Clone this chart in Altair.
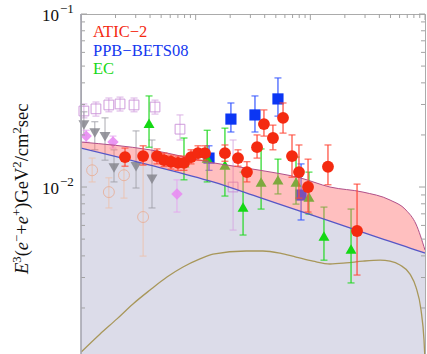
import altair as alt
import pandas as pd

# ---------------- data (energy in GeV, E^3 flux) ----------------
# ATIC-2
atic_e = [24.2, 34.8, 46.0, 53.0, 60.9, 70.1, 79.1, 91.1, 104.8, 120.6, 180, 234,
          280, 343, 394, 472, 578, 692, 796, 955, 1425, 2555]
atic_f = [0.0149, 0.0151, 0.0151, 0.0143, 0.0140, 0.0138, 0.0138, 0.0149, 0.0157, 0.0157,
          0.0157, 0.0147, 0.0122, 0.0170, 0.0231, 0.0192, 0.0251, 0.0151, 0.0122, 0.0100,
          0.0131, 0.00557]
atic_hi = [0.0168, 0.0173, 0.0166, 0.0157, 0.0153, 0.0151, 0.0151, 0.0164, 0.0173, 0.0173,
           0.0175, 0.0164, 0.0140, 0.0200, 0.0279, 0.0228, 0.0306, 0.0200, 0.0175, 0.0145,
           0.0175, 0.0104]
atic_lo = [0.0132, 0.0134, 0.0136, 0.0131, 0.0127, 0.0125, 0.0125, 0.0136, 0.0143, 0.0143,
           0.0141, 0.0132, 0.0107, 0.0147, 0.0197, 0.0164, 0.0205, 0.0114, 0.00863, 0.00717,
           0.0103, 0.00310]

# PPB-BETS08
ppb_e = [130.7, 203, 329, 522, 830]
ppb_f = [0.0147, 0.0247, 0.0261, 0.0323, 0.00899]
ppb_hi = [0.0173, 0.0306, 0.0336, 0.0427, 0.0136]
ppb_lo = [0.0125, 0.0208, 0.0208, 0.0257, 0.00645]

# EC
ec_e = [39.2, 79.1, 126, 180, 259, 372, 522, 750, 973, 1315, 2265]
ec_f = [0.0234, 0.0138, 0.0147, 0.0134, 0.00766, 0.0107, 0.0110, 0.0107, 0.00875, 0.00521, 0.00439]
ec_hi = [0.0336, 0.0192, 0.0213, 0.0219, 0.0122, 0.0166, 0.0145, 0.0149, 0.0122, 0.00766, 0.00746]
ec_lo = [0.0170, 0.0110, 0.0107, 0.00887, 0.00528, 0.00746, 0.00912, 0.00797, 0.00698, 0.00378, 0.00279]

# older measurements (drawn faded)
sq_e = [10.6, 13.5, 17.5, 21.9, 29.0, 44.2, 73.0, 212]
sq_f = [0.0275, 0.0283, 0.0298, 0.0302, 0.0298, 0.0290, 0.0216, 0.0100]
sq_hi = [0.0302, 0.0310, 0.0327, 0.0331, 0.0327, 0.0318, 0.0261, 0.0187]
sq_lo = [0.0251, 0.0257, 0.0272, 0.0275, 0.0272, 0.0264, 0.0187, 0.00564]

tri_e = [10.6, 13.2, 16.2, 19.4, 30.2, 41.6]
tri_f = [0.0228, 0.0205, 0.0195, 0.0129, 0.0131, 0.0111]
tri_hi = [0.0272, 0.0238, 0.0251, 0.0164, 0.0211, 0.0187]
tri_lo = [0.0200, 0.0164, 0.0143, 0.0107, 0.00987, 0.00757]

dia_e = [11.1, 19.0, 68.7]
dia_f = [0.0197, 0.0182, 0.00912]
dia_hi = [0.0213, 0.0197, 0.0110]
dia_lo = [0.0182, 0.0168, 0.00717]

oc_e = [12.5, 17.5, 23.7, 34.8]
oc_f = [0.0125, 0.00935, 0.0117, 0.00671]
oc_hi = [0.0147, 0.0113, 0.0153, 0.0134]
oc_lo = [0.0107, 0.00757, 0.00863, 0.00399]

# model curves
band_e = [10, 40, 141.6, 364, 813, 1484, 2877, 4955, 6825, 8340, 10000]
band_lower = [0.0168, 0.0134, 0.0107, 0.00868, 0.00726, 0.00636, 0.00547, 0.00485, 0.00452, 0.00432, 0.00415]
band_upper = [0.0182, 0.0164, 0.0138, 0.0125, 0.0113, 0.0100, 0.00935, 0.00841, 0.00736, 0.00611, 0.00432]

olive_e = [10, 14.6, 20.6, 28.4, 40, 56.2, 77.6, 109, 141.6, 275, 386, 544, 750, 1055,
           1484, 2046, 2877, 4052, 4955, 6053, 7400, 8340, 9230, 9800, 10000]
olive_f = [0.00111, 0.00141, 0.00173, 0.00211, 0.00254, 0.00302, 0.00345, 0.00384, 0.00410,
           0.00427, 0.00427, 0.00415, 0.00394, 0.00373, 0.00359, 0.00364, 0.00373, 0.00378,
           0.00373, 0.00354, 0.00314, 0.00264, 0.00195, 0.00131, 0.00100]

legend_labels = ["ATIC\u22122", "PPB\u2212BETS08", "EC"]
legend_colors = ["#f42a10", "#1438f0", "#18d818"]

decade_labels = [0.1, 0.01]
decade_sups = ["\u22121", "\u22122"]

# ---------------- layout ----------------
W, H = 344, 340
Y_MIN, Y_MAX = 0.001084, 0.1
SERIF = "'Liberation Serif', 'Times New Roman', serif"

x_scale = alt.Scale(type="log", domain=[10, 10000], nice=False)
y_scale = alt.Scale(type="log", domain=[Y_MIN, Y_MAX], nice=False)


def xe(field="E"):
    return alt.X(f"{field}:Q", scale=x_scale, axis=None)


def yf(field="F"):
    return alt.Y(f"{field}:Q", scale=y_scale, axis=None)


def frame(e, f, hi, lo):
    return pd.DataFrame({"E": e, "F": f, "hi": hi, "lo": lo})


def errorbars(df, color, opacity=1.0, width=1.0):
    base = alt.Chart(df)
    bar = base.mark_rule(color=color, strokeWidth=width, opacity=opacity).encode(
        x=xe(), y=yf("lo"), y2=alt.Y2("hi:Q"))
    cap_lo = base.mark_tick(orient="horizontal", color=color, size=7, thickness=1,
                            opacity=opacity).encode(x=xe(), y=yf("lo"))
    cap_hi = base.mark_tick(orient="horizontal", color=color, size=7, thickness=1,
                            opacity=opacity).encode(x=xe(), y=yf("hi"))
    return [bar, cap_lo, cap_hi]


band = pd.DataFrame({"E": band_e, "lower": band_lower, "upper": band_upper,
                     "floor": [Y_MIN] * len(band_e)})
olive = pd.DataFrame({"E": olive_e, "F": olive_f})

layers = []

# background region under the power law
layers.append(alt.Chart(band).mark_area(color="#dcdce9", interpolate="monotone", clip=True)
              .encode(x=xe(), y=yf("lower"), y2=alt.Y2("floor:Q")))
layers.append(alt.Chart(olive).mark_line(color="#a8975a", strokeWidth=1.3,
                                         interpolate="monotone", clip=True)
              .encode(x=xe(), y=yf()))

# faded older data
oc = frame(oc_e, oc_f, oc_hi, oc_lo)
layers += errorbars(oc, "#ecc2ae", 0.9)
layers.append(alt.Chart(oc).mark_point(shape="circle", filled=False, size=120, strokeWidth=1,
                                       color="#e9ad94", opacity=0.8)
              .encode(x=xe(), y=yf()))

sq = frame(sq_e, sq_f, sq_hi, sq_lo)
layers += errorbars(sq, "#d7a8e2", 0.9)
layers.append(alt.Chart(sq).mark_point(shape="square", filled=False, size=95, strokeWidth=1,
                                       color="#c78ad6", opacity=0.85)
              .encode(x=xe(), y=yf()))

tri = frame(tri_e, tri_f, tri_hi, tri_lo)
layers += errorbars(tri, "#9c9ca4", 0.85)
layers.append(alt.Chart(tri).mark_point(shape="triangle-down", filled=True, size=120,
                                        color="#86868e", opacity=0.85)
              .encode(x=xe(), y=yf()))

dia = frame(dia_e, dia_f, dia_hi, dia_lo)
layers += errorbars(dia, "#e4a4f0", 0.9)
layers.append(alt.Chart(dia).mark_point(shape="diamond", filled=True, size=130,
                                        color="#e88cf2", opacity=0.9)
              .encode(x=xe(), y=yf()))

# PPB-BETS08 and EC
ppb = frame(ppb_e, ppb_f, ppb_hi, ppb_lo)
layers += errorbars(ppb, "#3556ff", 1.0, 1.2)
layers.append(alt.Chart(ppb).mark_point(shape="square", filled=True, size=125,
                                        color="#0b36f4", opacity=1)
              .encode(x=xe(), y=yf()))

ec = frame(ec_e, ec_f, ec_hi, ec_lo)
layers += errorbars(ec, "#22d822", 1.0, 1.2)
layers.append(alt.Chart(ec).mark_point(shape="triangle-up", filled=True, size=120,
                                       color="#14d814", opacity=1)
              .encode(x=xe(), y=yf()))

# model band with pulsar contribution
layers.append(alt.Chart(band).mark_area(color="#ff7070", opacity=0.45, interpolate="monotone",
                                        clip=True)
              .encode(x=xe(), y=yf("lower"), y2=alt.Y2("upper:Q")))
layers.append(alt.Chart(band).mark_line(color="#b0508a", strokeWidth=1,
                                        interpolate="monotone", clip=True)
              .encode(x=xe(), y=yf("upper")))
layers.append(alt.Chart(band).mark_line(color="#5656c6", strokeWidth=1.3,
                                        interpolate="monotone", clip=True)
              .encode(x=xe(), y=yf("lower")))

# ATIC-2 on top
atic = frame(atic_e, atic_f, atic_hi, atic_lo)
layers += errorbars(atic, "#ff4838", 1.0, 1.2)
layers.append(alt.Chart(atic).mark_point(shape="circle", filled=True, size=140,
                                         color="#f42a10", opacity=1)
              .encode(x=xe(), y=yf()))

one = pd.DataFrame({"a": [0]})

# in-plot legend
for i, (lab, col) in enumerate(zip(legend_labels, legend_colors)):
    layers.append(alt.Chart(one).mark_text(text=lab, color=col, font=SERIF, fontSize=16.5,
                                           align="left", baseline="alphabetic")
                  .encode(x=alt.value(12), y=alt.value(23 + 18.5 * i)))

# tick marks (inward) on left, top and right
x_major = [10, 100, 1000, 10000]
x_minor = [k * 10 ** d for d in (1, 2, 3) for k in range(2, 10)]
y_major = [0.01, 0.1]
y_minor = [k * 10.0 ** d for d in (-3, -2) for k in range(2, 10) if k * 10.0 ** d > 0.00109]
tick_col = "#a3a3a3"

for vals, ln in ((x_major, 6), (x_minor, 4)):
    df = pd.DataFrame({"E": vals})
    layers.append(alt.Chart(df).mark_rule(color=tick_col, strokeWidth=1)
                  .encode(x=xe(), y=alt.value(0), y2=alt.value(ln)))
for vals, ln in ((y_major, 6), (y_minor, 4)):
    df = pd.DataFrame({"F": vals})
    layers.append(alt.Chart(df).mark_rule(color=tick_col, strokeWidth=1)
                  .encode(y=yf(), x=alt.value(0), x2=alt.value(ln)))
    layers.append(alt.Chart(df).mark_rule(color=tick_col, strokeWidth=1)
                  .encode(y=yf(), x=alt.value(W), x2=alt.value(W - ln)))

# left axis line
layers.append(alt.Chart(one).mark_rule(color="#a6a6b0", strokeWidth=1.6)
              .encode(x=alt.value(0), y=alt.value(0), y2=alt.value(H)))

# decade labels 10^-1, 10^-2
lab_df = pd.DataFrame({"F": decade_labels, "sup": decade_sups})
layers.append(alt.Chart(lab_df).mark_text(text="10", font=SERIF, fontSize=17, color="#111111",
                                          align="right", baseline="alphabetic", dy=7)
              .encode(x=alt.value(-22), y=yf()))
layers.append(alt.Chart(lab_df).mark_text(font=SERIF, fontSize=13, color="#111111",
                                          align="left", baseline="alphabetic", dy=-1)
              .encode(x=alt.value(-21), y=yf(), text="sup:N"))

# rotated axis title E^3(e^- + e^+) GeV^2/cm^2 sec
TS, SS = 18.5, 12.8
em = {"E": 0.611, "3": 0.5, "(": 0.333, "e": 0.444, "\u2212": 0.564, "+": 0.564,
      ")": 0.333, "G": 0.722, "V": 0.722, "/": 0.278, "c": 0.444, "m": 0.778,
      "s": 0.389, "2": 0.5}
pieces = [("E", "italic", False), ("3", "normal", True), ("(", "normal", False),
          ("e", "italic", False), ("\u2212", "normal", True), ("+", "normal", False),
          ("e", "italic", False), ("+", "normal", True), (")GeV", "normal", False),
          ("2", "normal", True), ("/cm", "normal", False), ("2", "normal", True),
          ("sec", "normal", False)]
base_x, start_y = -53, 260
pos = 0.0
for txt, style, sup in pieces:
    size = SS if sup else TS
    layers.append(alt.Chart(one).mark_text(text=txt, font=SERIF, fontSize=size,
                                           fontStyle=style, color="#111111", angle=270,
                                           align="left", baseline="alphabetic")
                  .encode(x=alt.value(base_x - (7 if sup else 0)), y=alt.value(start_y - pos)))
    pos += sum(em[c] for c in txt) * size

chart = alt.layer(*layers).properties(
    width=W, height=H,
    padding={"left": 81, "top": 14, "right": 2, "bottom": 0},
    autosize=alt.AutoSizeParams(type="none"),
    background="white",
).configure_view(stroke="#ababab", strokeWidth=1)

chart.save("out.html", embed_options={"renderer": "svg", "actions": False})
